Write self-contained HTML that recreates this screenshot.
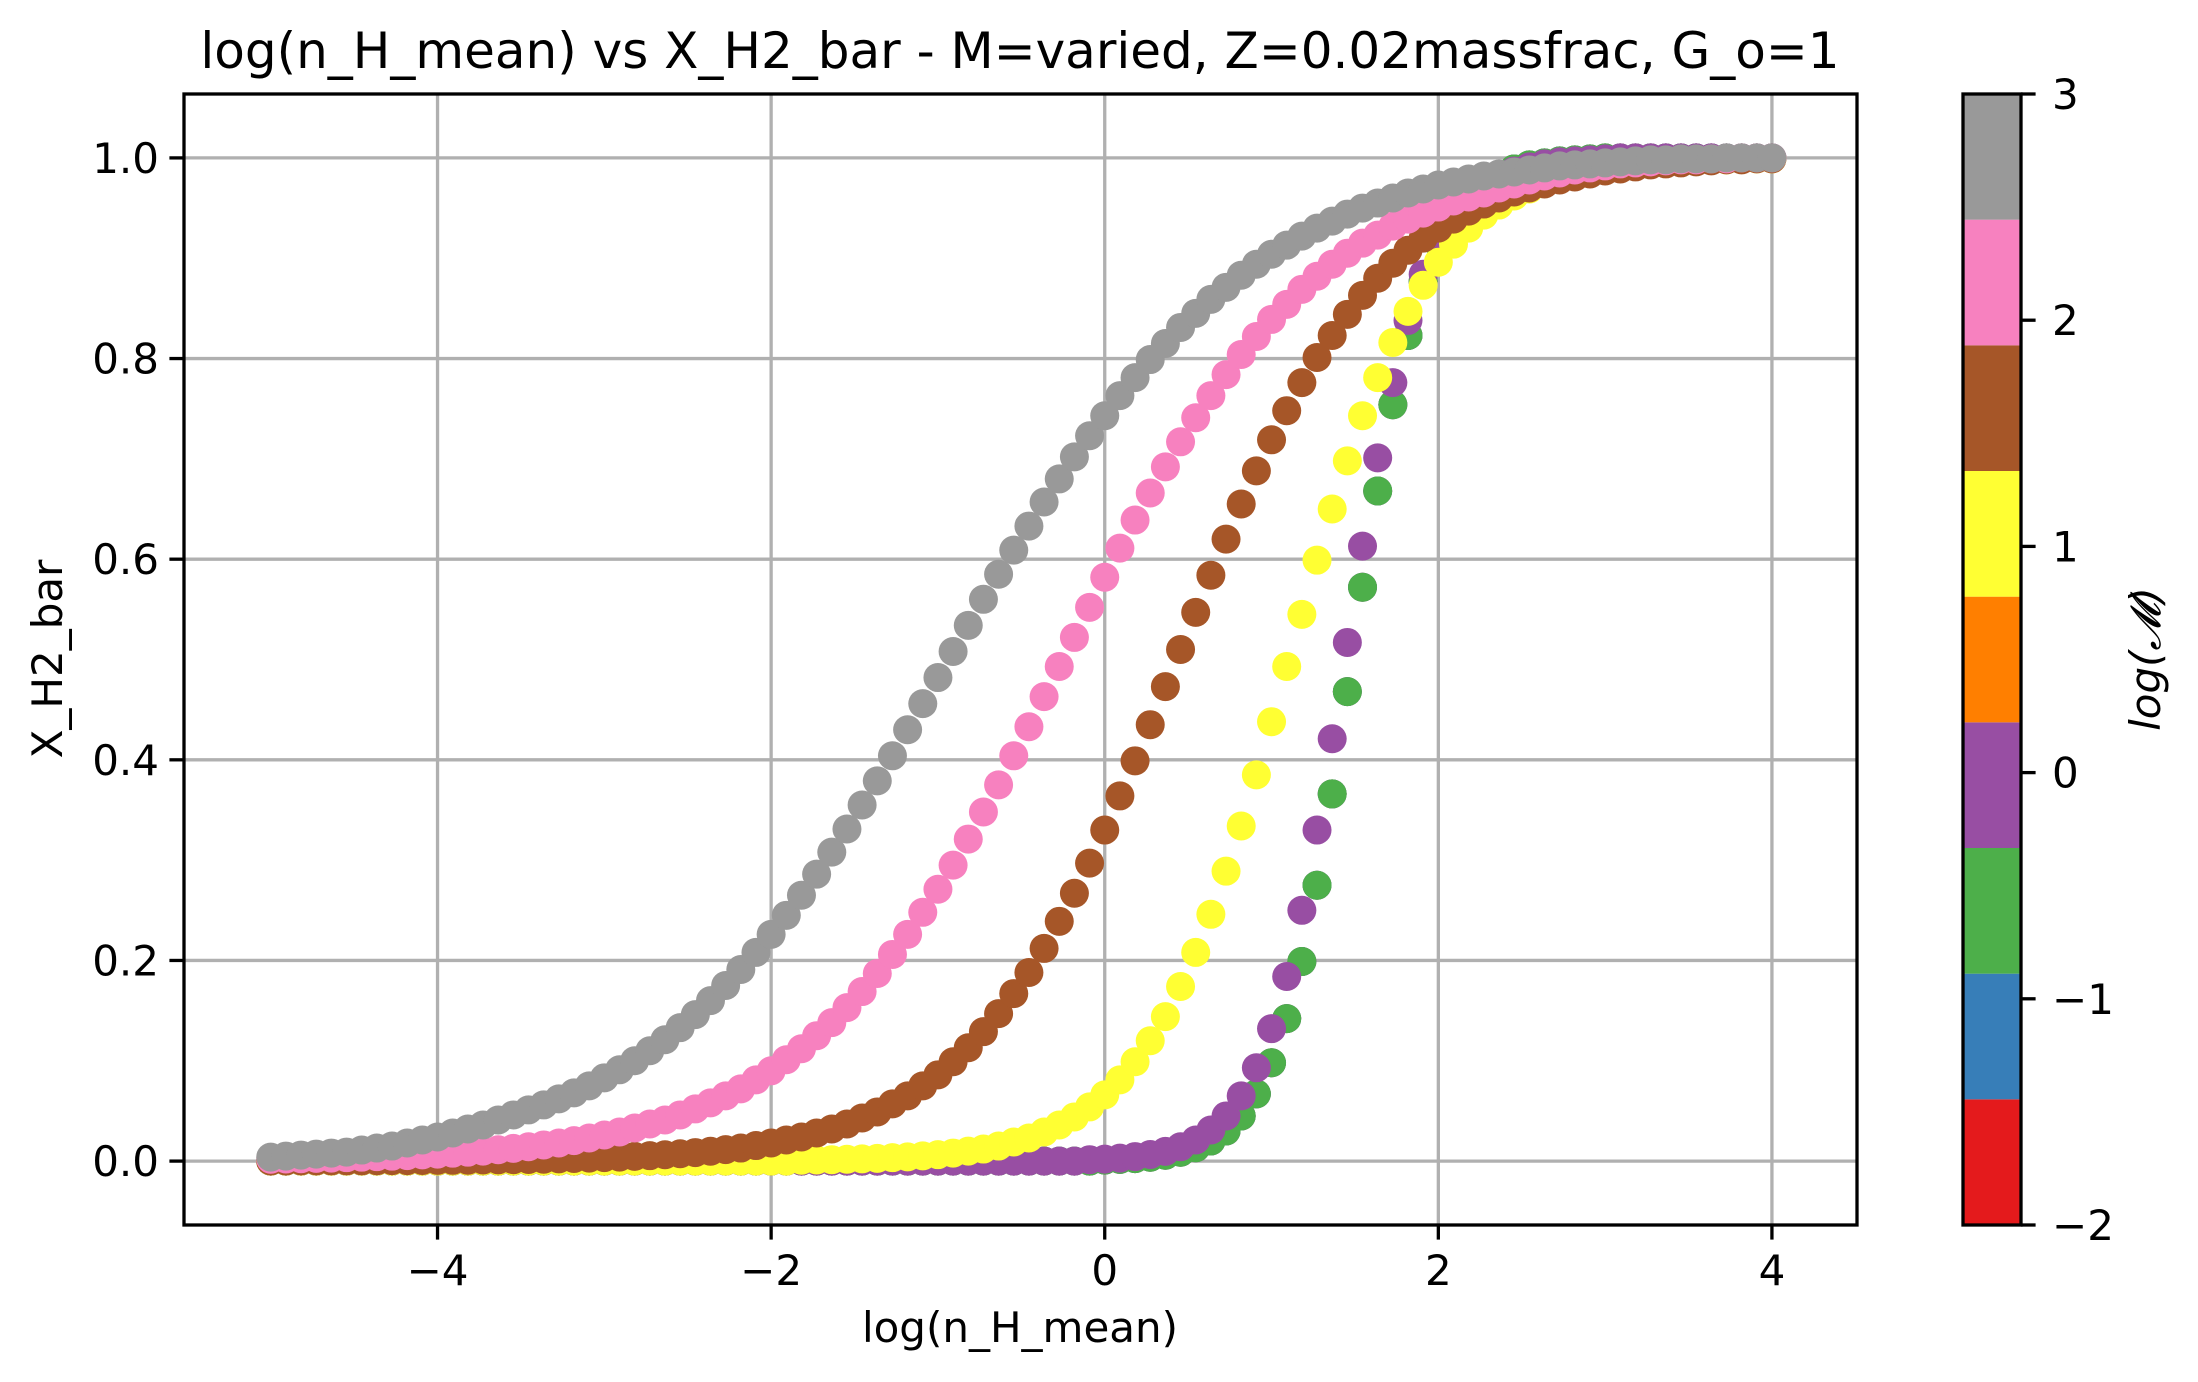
<!DOCTYPE html>
<html><head><meta charset="utf-8"><style>
html,body{margin:0;padding:0;background:#fff;}
svg{display:block;font-family:"DejaVu Sans","Liberation Sans",sans-serif;}
</style></head><body>
<svg id="chart" width="2198" height="1382" viewBox="0 0 2198 1382" xmlns="http://www.w3.org/2000/svg">
<rect width="2198" height="1382" fill="#fff"/>
<text x="1020" y="68" font-size="50" text-anchor="middle">log(n_H_mean) vs X_H2_bar - M=varied, Z=0.02massfrac, G_o=1</text>
<g id="grid"></g>
<g id="marks"></g>
<rect x="184" y="94" width="1673" height="1131" fill="none" stroke="#000" stroke-width="3.3"/>
<g id="axes"></g>
<text x="1020" y="1342" font-size="42" text-anchor="middle">log(n_H_mean)</text>
<text transform="translate(62,659) rotate(-90)" font-size="42" text-anchor="middle">X_H2_bar</text>
<g id="cbar"></g>
<text transform="translate(2160,659) rotate(-90)" font-size="42" font-style="italic" text-anchor="middle">log(𝓜)</text>
</svg>
<script>
const xTicks = [-4, -2, 0, 2, 4];
const yTicks = [0.0, 0.2, 0.4, 0.6, 0.8, 1.0];
const yTickLabels = ["0.0","0.2","0.4","0.6","0.8","1.0"];
const cbarTicks = [-2, -1, 0, 1, 2, 3];
const cbarTickLabels = ["\u22122","\u22121","0","1","2","3"];
const cbarColors = ["#e41a1c","#377eb8","#4daf4a","#984ea3","#ff7f00","#ffff33","#a65628","#f781bf","#999999"];
const xStart = -5, xEnd = 4, nPts = 100;
const seriesNames = ["red","blue","green","purple","yellow","brown","pink","gray"];
const seriesColors = ["#e41a1c","#377eb8","#4daf4a","#984ea3","#ffff33","#a65628","#f781bf","#999999"];

const greenVals = [0,0,0,0,0,0,0,0,0,0,0,0,0,0,0,0,0,0,0,0,0,0,0,0,0,0,0,0,0,0,0,0,0,0,0,0,0,0,0,0,0,0,0,0,0,0,0,0,0,0,0,0,0,0,0,0.001,0.0017,0.0025,0.0038,0.0058,0.0088,0.0133,0.020,0.030,0.045,0.067,0.098,0.142,0.199,0.275,0.366,0.468,0.572,0.668,0.754,0.823,0.877,0.915,0.943,0.961,0.974,0.983,0.989,0.993,0.995,0.997,0.998,0.999,1,1,1,1,1,1,1,1,1,1,1,1];
const redVals = greenVals.slice();
const blueVals = greenVals.slice();
const purpleVals = [0,0,0,0,0,0,0,0,0,0,0,0,0,0,0,0,0,0,0,0,0,0,0,0,0,0,0,0,0,0,0,0,0,0,0,0,0,0,0,0,0,0,0,0,0,0,0,0,0,0,0,0,0,0,0.0014,0.002,0.003,0.0045,0.0066,0.0097,0.0143,0.021,0.031,0.045,0.065,0.093,0.132,0.184,0.250,0.330,0.421,0.517,0.613,0.701,0.776,0.838,0.884,0.918,0.943,0.961,0.973,0.982,0.987,0.991,0.994,0.996,0.997,0.998,0.999,1,1,1,1,1,1,1,1,1,1,1];
const yellowVals = [0,0,0,0,0,0,0,0,0,0,0,0,0,0,0,0,0,0,0,0,0,0,0,0,0,0,0,0,0,0,0,0,0,0,0,0.0009,0.0011,0.0014,0.0018,0.0022,0.0027,0.0034,0.0042,0.0052,0.0064,0.008,0.0099,0.012,0.015,0.019,0.023,0.029,0.036,0.044,0.054,0.066,0.081,0.099,0.120,0.144,0.174,0.208,0.246,0.289,0.334,0.385,0.438,0.493,0.545,0.599,0.650,0.698,0.743,0.781,0.816,0.847,0.873,0.896,0.914,0.930,0.943,0.953,0.962,0.969,0.975,0.980,0.984,0.987,0.989,0.991,0.993,0.994,0.995,0.996,0.997,0.998,0.998,0.999,0.999,0.999];
const brownVals = [0.0001,0.0001,0.0002,0.0002,0.0003,0.0003,0.0003,0.0004,0.0005,0.0005,0.0006,0.0007,0.0008,0.0009,0.0011,0.0012,0.0014,0.0016,0.0019,0.0022,0.0026,0.003,0.0035,0.004,0.0047,0.0054,0.0063,0.0073,0.0085,0.0098,0.0114,0.013,0.0155,0.018,0.021,0.024,0.028,0.032,0.037,0.043,0.049,0.057,0.065,0.075,0.086,0.099,0.113,0.129,0.147,0.167,0.188,0.212,0.239,0.267,0.297,0.330,0.364,0.399,0.435,0.473,0.510,0.547,0.584,0.620,0.655,0.688,0.719,0.748,0.776,0.801,0.823,0.844,0.863,0.880,0.895,0.908,0.920,0.930,0.939,0.947,0.954,0.960,0.966,0.970,0.974,0.978,0.981,0.984,0.987,0.989,0.991,0.993,0.994,0.995,0.996,0.997,0.998,0.998,0.999,0.999];
const pinkVals = [0.0019,0.0021,0.0024,0.0027,0.003,0.0034,0.0039,0.0044,0.0049,0.0055,0.0062,0.007,0.0079,0.0089,0.010,0.0113,0.0127,0.0143,0.0161,0.018,0.0204,0.023,0.026,0.029,0.033,0.037,0.041,0.046,0.052,0.058,0.065,0.072,0.081,0.090,0.101,0.112,0.125,0.138,0.153,0.169,0.187,0.206,0.226,0.248,0.271,0.295,0.321,0.348,0.375,0.404,0.433,0.463,0.493,0.522,0.552,0.582,0.611,0.639,0.666,0.692,0.717,0.741,0.763,0.784,0.804,0.822,0.839,0.854,0.869,0.882,0.894,0.905,0.915,0.923,0.932,0.939,0.945,0.951,0.957,0.961,0.965,0.970,0.974,0.978,0.982,0.985,0.988,0.990,0.992,0.994,0.995,0.996,0.997,0.998,0.998,0.999,0.999,1,1,1];
const grayVals = [0.004,0.005,0.006,0.007,0.008,0.009,0.011,0.013,0.015,0.018,0.021,0.024,0.028,0.032,0.036,0.041,0.046,0.051,0.056,0.062,0.068,0.075,0.083,0.091,0.100,0.110,0.121,0.133,0.146,0.160,0.175,0.191,0.208,0.226,0.245,0.265,0.286,0.308,0.331,0.355,0.379,0.404,0.430,0.456,0.482,0.508,0.534,0.560,0.585,0.609,0.633,0.657,0.680,0.702,0.723,0.743,0.763,0.781,0.799,0.815,0.831,0.845,0.859,0.871,0.883,0.894,0.904,0.913,0.922,0.930,0.937,0.944,0.950,0.955,0.960,0.965,0.969,0.973,0.976,0.979,0.982,0.984,0.986,0.988,0.990,0.992,0.993,0.994,0.995,0.996,0.997,0.998,0.998,0.999,0.999,0.999,1,1,1,1];

const NS = "http://www.w3.org/2000/svg";
const plot = {left:184, right:1857, top:94, bottom:1225};
const xMin = -5.52, xMax = 4.51, yMin = -0.0637, yMax = 1.0637;
function sx(v){ return plot.left + (v - xMin) / (xMax - xMin) * (plot.right - plot.left); }
function sy(v){ return plot.bottom - (v - yMin) / (yMax - yMin) * (plot.bottom - plot.top); }
const cb = {left:1963, right:2021, top:94, bottom:1225, min:-2, max:3};
function cy(v){ return cb.bottom - (v - cb.min) / (cb.max - cb.min) * (cb.bottom - cb.top); }
function mk(tag, attrs, parent){ const e = document.createElementNS(NS, tag); for (const k in attrs) e.setAttribute(k, attrs[k]); parent.appendChild(e); return e; }

const grid = document.getElementById('grid');
const axes = document.getElementById('axes');
xTicks.forEach(t => {
  const g = mk('line', {x1:sx(t), x2:sx(t), y1:plot.top, y2:plot.bottom, stroke:'#b0b0b0', 'stroke-width':3.3}, grid);
  
  
  const tk = mk('line', {x1:sx(t), x2:sx(t), y1:plot.bottom, y2:plot.bottom+14.6, stroke:'#000', 'stroke-width':3.3}, axes);
  
  
  const lb = mk('text', {x:sx(t), y:1285, 'font-size':42, 'text-anchor':'middle'}, axes);
  lb.textContent = t < 0 ? '\u2212' + Math.abs(t) : String(t);
  
  
});
yTicks.forEach((t, i) => {
  const g = mk('line', {x1:plot.left, x2:plot.right, y1:sy(t), y2:sy(t), stroke:'#b0b0b0', 'stroke-width':3.3}, grid);
  
  
  const tk = mk('line', {x1:plot.left-14.6, x2:plot.left, y1:sy(t), y2:sy(t), stroke:'#000', 'stroke-width':3.3}, axes);
  
  
  const lb = mk('text', {x:plot.left-25, y:sy(t)+15, 'font-size':42, 'text-anchor':'end'}, axes);
  lb.textContent = yTickLabels[i];
  
  
});

const xs = [];
for (let i = 0; i < nPts; i++) xs.push(xStart + (xEnd - xStart) * i / (nPts - 1));
const allVals = [redVals, blueVals, greenVals, purpleVals, yellowVals, brownVals, pinkVals, grayVals];
const marks = document.getElementById('marks');
allVals.forEach((vals, s) => {
  const g = mk('g', {fill: seriesColors[s]}, marks);
  
  
  vals.forEach((v, i) => {
    const c = mk('circle', {cx: sx(xs[i]), cy: sy(v), r: 14.5}, g);
    
    
  });
});

const cbar = document.getElementById('cbar');
const segH = (cb.max - cb.min) / cbarColors.length;
cbarColors.forEach((col, i) => {
  const v0 = cb.min + i * segH, v1 = v0 + segH;
  const r = mk('rect', {x:cb.left, y:cy(v1), width:cb.right-cb.left, height:cy(v0)-cy(v1), fill:col}, cbar);
  
  
});
const fr = mk('rect', {x:cb.left, y:cb.top, width:cb.right-cb.left, height:cb.bottom-cb.top, fill:'none', stroke:'#000', 'stroke-width':3.3}, cbar);


cbarTicks.forEach((t, i) => {
  const tk = mk('line', {x1:cb.right, x2:cb.right+14.6, y1:cy(t), y2:cy(t), stroke:'#000', 'stroke-width':3.3}, cbar);
  
  
  const lb = mk('text', {x:2052, y:cy(t)+15, 'font-size':42}, cbar);
  lb.textContent = cbarTickLabels[i];
  
  
});
</script>
</body></html>
